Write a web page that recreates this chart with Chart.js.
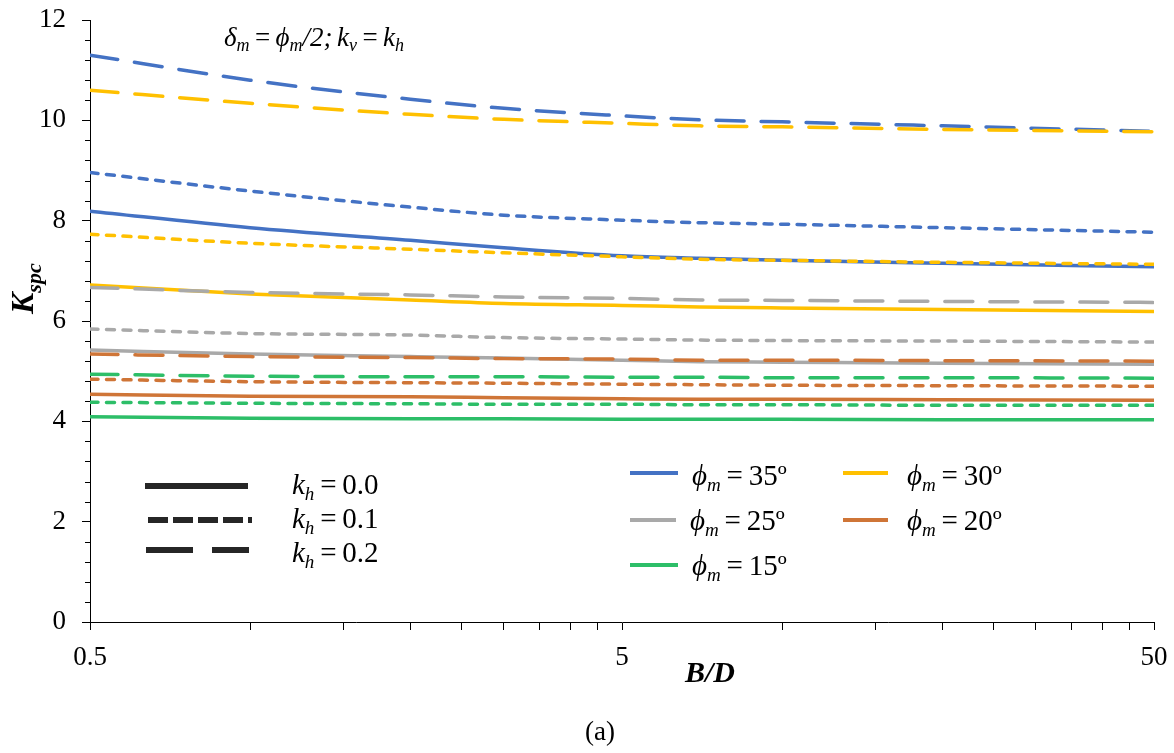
<!DOCTYPE html>
<html>
<head>
<meta charset="utf-8">
<script src="https://cdn.jsdelivr.net/npm/chart.js@4.4.1/dist/chart.umd.min.js"></script>
<style>
  html, body { margin: 0; padding: 0; background: #fff; }
</style>
</head>
<body>
<canvas id="kspc" width="1174" height="753"></canvas>
<script>
// B/D values where the curves were sampled
const bdRatio = [0.5, 1, 2, 3, 5, 7, 10, 20, 50];

// Kspc for each friction angle and seismic coefficient
const phi35_kh0 = [8.19, 7.86, 7.61, 7.46, 7.30, 7.25, 7.21, 7.15, 7.08];
const phi35_kh1 = [8.96, 8.59, 8.27, 8.11, 8.01, 7.96, 7.93, 7.86, 7.77];
const phi35_kh2 = [11.30, 10.80, 10.42, 10.24, 10.09, 10.01, 9.97, 9.89, 9.78];
const phi30_kh0 = [6.72, 6.54, 6.42, 6.35, 6.31, 6.28, 6.26, 6.23, 6.19];
const phi30_kh1 = [7.73, 7.55, 7.43, 7.36, 7.28, 7.23, 7.21, 7.17, 7.13];
const phi30_kh2 = [10.60, 10.34, 10.12, 10.02, 9.94, 9.89, 9.87, 9.82, 9.77];
const phi25_kh0 = [5.42, 5.34, 5.29, 5.26, 5.22, 5.19, 5.18, 5.16, 5.14];
const phi25_kh1 = [5.84, 5.75, 5.72, 5.67, 5.64, 5.62, 5.61, 5.60, 5.58];
const phi25_kh2 = [6.67, 6.57, 6.52, 6.48, 6.45, 6.42, 6.41, 6.39, 6.37];
const phi20_kh0 = [4.54, 4.50, 4.49, 4.47, 4.45, 4.44, 4.44, 4.43, 4.42];
const phi20_kh1 = [4.84, 4.79, 4.77, 4.76, 4.74, 4.73, 4.72, 4.71, 4.70];
const phi20_kh2 = [5.34, 5.29, 5.27, 5.25, 5.24, 5.22, 5.22, 5.21, 5.20];
const phi15_kh0 = [4.09, 4.06, 4.05, 4.05, 4.04, 4.04, 4.04, 4.03, 4.03];
const phi15_kh1 = [4.38, 4.36, 4.35, 4.34, 4.34, 4.33, 4.33, 4.32, 4.32];
const phi15_kh2 = [4.94, 4.90, 4.89, 4.89, 4.88, 4.88, 4.87, 4.87, 4.86];

const phiLabels = ['35', '30', '25', '20', '15'];
const khLabels = ['0.0', '0.1', '0.2'];
const xTickLabels = [0.5, 5, 50];

const colors = {
  '35': '#4472C4',
  '30': '#FFC000',
  '25': '#A9A9A9',
  '20': '#CF7537',
  '15': '#2DBE68'
};
const dashes = { '0.0': [], '0.1': [8, 8.5], '0.2': [28, 17] };

const serif = '"Liberation Serif", "Times New Roman", serif';
const it = s => `italic ${s}px ${serif}`;
const rm = s => `${s}px ${serif}`;
const bi = s => `bold italic ${s}px ${serif}`;
const thin = '\u2009';

// kh = 0.2 drawn on top, then 0.1, then 0.0
const series = [
  ['30', '0.2', phi30_kh2], ['35', '0.2', phi35_kh2], ['25', '0.2', phi25_kh2],
  ['20', '0.2', phi20_kh2], ['15', '0.2', phi15_kh2],
  ['30', '0.1', phi30_kh1], ['35', '0.1', phi35_kh1], ['25', '0.1', phi25_kh1],
  ['20', '0.1', phi20_kh1], ['15', '0.1', phi15_kh1],
  ['30', '0.0', phi30_kh0], ['35', '0.0', phi35_kh0], ['25', '0.0', phi25_kh0],
  ['20', '0.0', phi20_kh0], ['15', '0.0', phi15_kh0]
];

const datasets = series.map(([phi, kh, vals]) => ({
  label: 'phi ' + phi + ' kh ' + kh,
  data: bdRatio.map((x, i) => ({ x: x, y: vals[i] })),
  borderColor: colors[phi],
  borderWidth: 3.5,
  borderDash: dashes[kh],
  borderCapStyle: 'round',
  pointRadius: 0,
  fill: false,
  cubicInterpolationMode: 'monotone'
}));

// log minor ticks: 0.5, 1, 1.5 ... 5, 10, 15 ... 50
const xTicks = [];
for (let k = 1; k <= 10; k++) xTicks.push(0.5 * k);
for (let k = 2; k <= 10; k++) xTicks.push(5 * k);

// draw text made of several runs (for subscripts)
function drawRuns(ctx, x, y, runs) {
  runs.forEach(r => {
    ctx.font = r[1];
    ctx.fillText(r[0], x, y + (r[2] || 0));
    x += ctx.measureText(r[0]).width;
  });
  return x;
}

function hLine(ctx, x1, x2, y, color, width, dash) {
  ctx.save();
  ctx.strokeStyle = color;
  ctx.lineWidth = width;
  ctx.setLineDash(dash);
  ctx.beginPath();
  ctx.moveTo(x1, y);
  ctx.lineTo(x2, y);
  ctx.stroke();
  ctx.restore();
}

const decorations = {
  id: 'decorations',
  afterDraw(chart) {
    const ctx = chart.ctx;
    const yScale = chart.scales.y;
    const left = chart.chartArea.left;

    // minor ticks on the y axis every 0.4
    ctx.save();
    ctx.strokeStyle = '#000';
    ctx.lineWidth = 1;
    for (let i = 0; i <= 30; i++) {
      if (i % 5 === 0) continue;
      const py = Math.round(yScale.getPixelForValue(i * 0.4)) + 0.5;
      ctx.beginPath();
      ctx.moveTo(left - 5, py);
      ctx.lineTo(left, py);
      ctx.stroke();
    }
    ctx.restore();

    ctx.save();
    ctx.fillStyle = '#000';
    ctx.textBaseline = 'alphabetic';

    // condition note
    drawRuns(ctx, 224, 46, [
      ['δ', it(27)], ['m', it(18), 5], [thin + '=' + thin, rm(27)],
      ['ϕ', it(27)], ['m', it(18), 5], ['/2;', it(27)], [' ', rm(18)],
      ['k', it(27)], ['v', it(18), 5], [thin + '=' + thin, rm(27)],
      ['k', it(27)], ['h', it(18), 5]
    ]);

    // kh legend (line styles)
    const khY = [486, 520, 550];
    const khDash = [[], [20, 5], [47, 19]];
    const khX = [[145, 248], [148, 252], [146, 249]];
    khLabels.forEach((lab, i) => {
      hLine(ctx, khX[i][0], khX[i][1], khY[i], '#262626', 6, khDash[i]);
      drawRuns(ctx, 292, 494 + i * 34, [
        ['k', it(29)], ['h', it(19), 6], [thin + '=' + thin + lab, rm(29)]
      ]);
    });

    // phi legend (colours)
    const phiPos = {
      '35': [630, 678, 473, 692, 485],
      '30': [843, 888, 473, 907, 485],
      '25': [630, 676, 520, 690, 530],
      '20': [843, 888, 520, 907, 530],
      '15': [630, 678, 565, 692, 575]
    };
    phiLabels.forEach(phi => {
      const p = phiPos[phi];
      hLine(ctx, p[0], p[1], p[2], colors[phi], 4, []);
      drawRuns(ctx, p[3], p[4], [
        ['ϕ', it(29)], ['m', it(19), 6], [thin + '=' + thin + phi + 'º', rm(29)]
      ]);
    });

    // y axis title, rotated
    ctx.save();
    ctx.translate(33, 314);
    ctx.rotate(-Math.PI / 2);
    drawRuns(ctx, 0, 0, [['K', bi(32)], ['spc', bi(22), 8]]);
    ctx.restore();

    // x axis title
    drawRuns(ctx, 685, 682, [['B/D', bi(30)]]);

    // panel label
    ctx.textAlign = 'center';
    ctx.font = rm(27);
    ctx.fillText('(a)', 600, 740);
    ctx.restore();
  }
};

new Chart(document.getElementById('kspc'), {
  type: 'line',
  data: { datasets: datasets },
  plugins: [decorations],
  options: {
    responsive: false,
    animation: false,
    devicePixelRatio: 1,
    layout: { padding: { top: 20, right: 20, left: 0, bottom: 0 } },
    plugins: {
      legend: { display: false },
      tooltip: { enabled: false }
    },
    scales: {
      x: {
        type: 'logarithmic',
        min: 0.5,
        max: 50,
        afterBuildTicks: scale => { scale.ticks = xTicks.map(v => ({ value: v })); },
        afterFit: scale => {
          scale.height = 131;
          scale.paddingLeft = 0;
          scale.paddingRight = 0;
        },
        grid: { drawOnChartArea: false, drawTicks: true, tickLength: 8, color: '#000' },
        border: { display: true, color: '#000', width: 1 },
        ticks: {
          autoSkip: false,
          maxRotation: 0,
          padding: 12,
          color: '#000',
          font: { family: serif, size: 27 },
          callback: v => (xTickLabels.some(t => Math.abs(t - v) < 1e-9) ? String(v) : '')
        }
      },
      y: {
        min: 0,
        max: 12,
        afterFit: scale => {
          scale.width = 90;
          scale.paddingTop = 0;
          scale.paddingBottom = 0;
        },
        grid: { drawOnChartArea: false, drawTicks: true, tickLength: 8, color: '#000' },
        border: { display: true, color: '#000', width: 1 },
        ticks: {
          stepSize: 2,
          padding: 16,
          color: '#000',
          font: { family: serif, size: 27 }
        }
      }
    }
  }
});
</script>
</body>
</html>
